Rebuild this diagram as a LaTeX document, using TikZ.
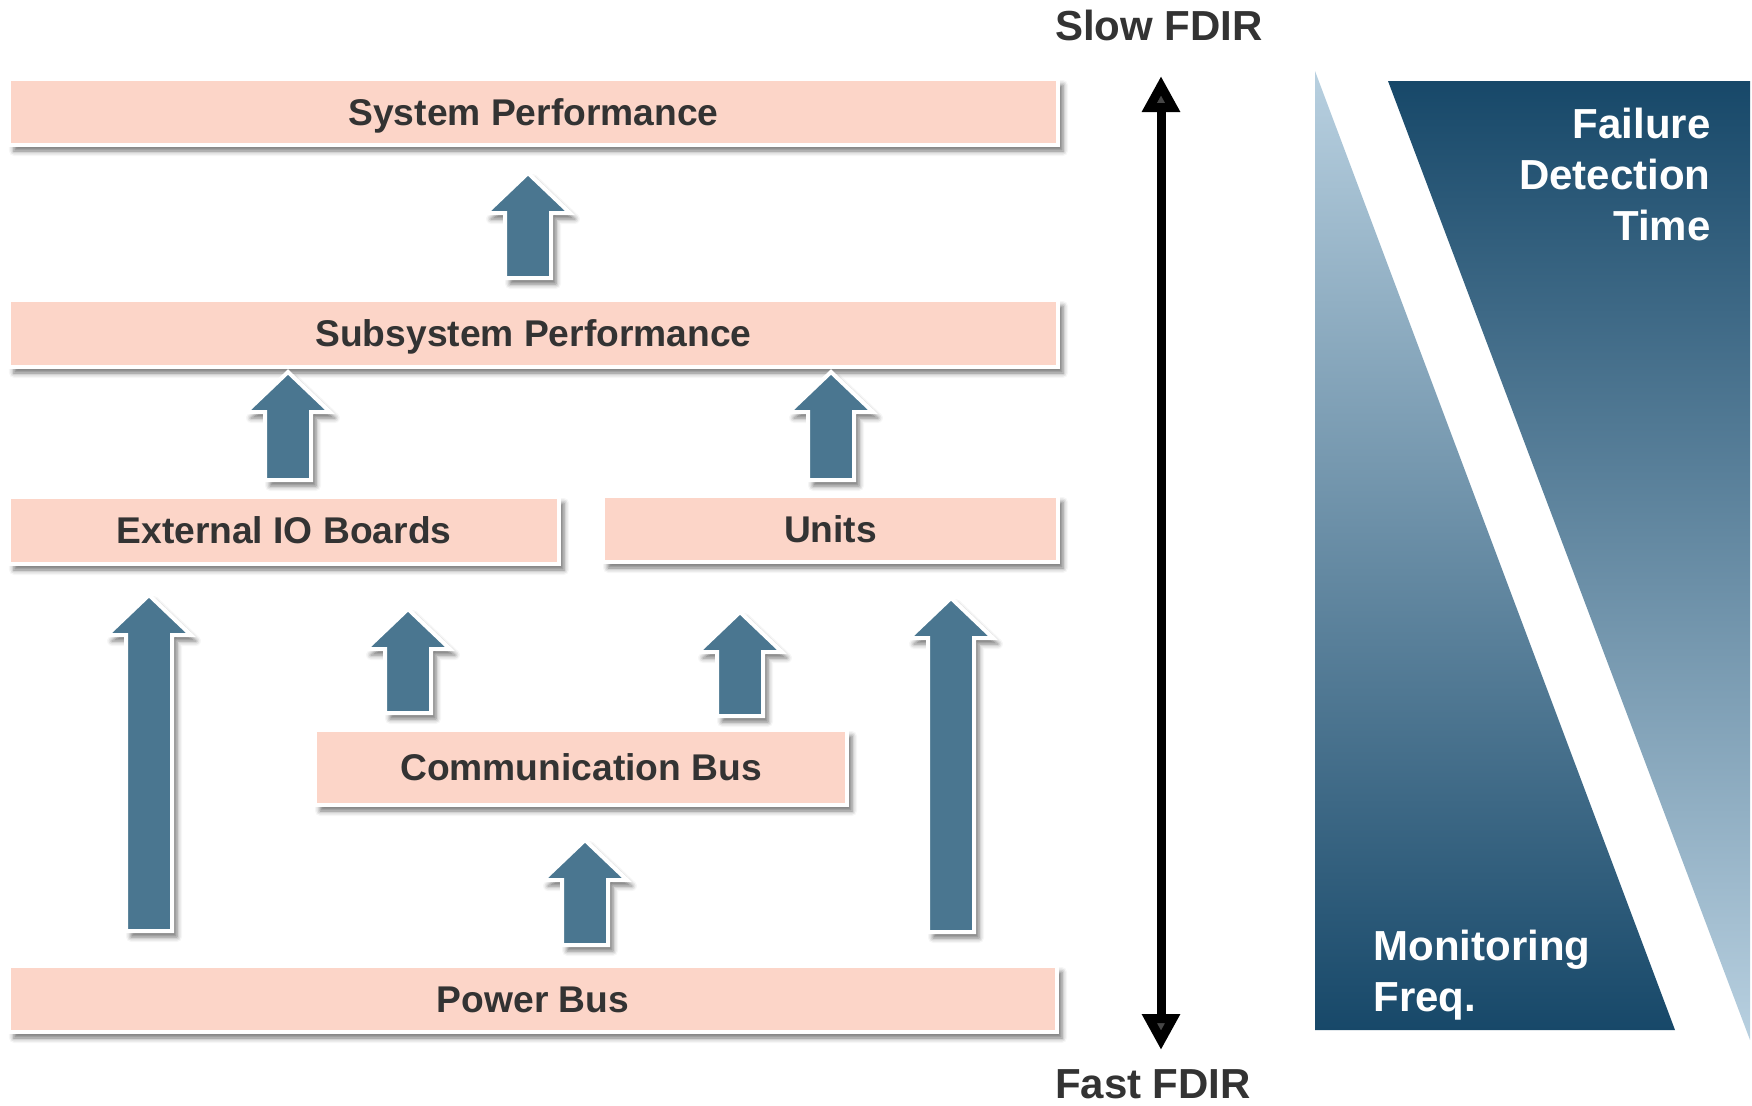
\documentclass[tikz,border=0pt]{standalone}
\usepackage{fontspec}
\setmainfont{Liberation Sans}
\usetikzlibrary{arrows.meta,shadows.blur}

\definecolor{boxfill}{RGB}{252,213,200}
\definecolor{arrowblue}{RGB}{74,118,144}
\definecolor{txtgray}{RGB}{51,51,51}
\definecolor{navy}{RGB}{23,72,105}
\definecolor{paleblue}{RGB}{184,208,224}

\tikzset{
  softshadow/.style={blur shadow={shadow xshift=2.5pt, shadow yshift=-3pt,
      shadow blur radius=2.5pt, shadow opacity=55}},
  level/.style={rectangle, fill=boxfill, draw=white, line width=2pt,
      inner sep=0pt, softshadow, text=txtgray,
      font=\fontsize{18.6}{22}\selectfont\bfseries,
      text height=13.4pt, text depth=0pt},
  upshape/.style={fill=arrowblue, draw=white, line width=2pt, softshadow},
  bigtext/.style={font=\fontsize{21}{25.5}\selectfont\bfseries, inner sep=0pt},
  fdir/.style={line width=4.5pt,
      {Triangle[length=18pt,width=18pt]}-{Triangle[length=18pt,width=18pt]}}
}

% block arrow pointing up: centre x, tip y, foot y (in pixels)
\newcommand{\blockarrow}[3]{%
  \filldraw[upshape] (#1-23,#3) -- (#1-23,#2+40) -- (#1-42,#2+40) -- (#1,#2)
    -- (#1+42,#2+40) -- (#1+23,#2+40) -- (#1+23,#3) -- cycle;}

\begin{document}
\begin{tikzpicture}[x=0.5pt, y=-0.5pt]
\useasboundingbox (0,0) rectangle (1752,1105);

% gradient wedges
\shade[top color=paleblue, bottom color=navy] (1315,71) -- (1315,1030) -- (1675,1030) -- cycle;
\shade[top color=navy, bottom color=paleblue] (1388,81) -- (1750,81) -- (1750,1040) -- cycle;
\node[bigtext, text=white, align=right, anchor=east] (fdt) at (1711,174)
  {Failure\\Detection\\Time};
\node[bigtext, text=white, align=left, anchor=west] (mon) at (1373,975)
  {Monitoring\\Freq.};

% levels
\node[level, minimum width=524.5pt, minimum height=33pt] (sys) at (533.5,112) {System Performance};
\node[level, minimum width=524.5pt, minimum height=33.5pt] (sub) at (533.5,333.5) {Subsystem Performance};
\node[level, minimum width=275pt, minimum height=33.5pt] (extio) at (284,530.5) {External IO Boards};
\node[level, minimum width=227.5pt, minimum height=33pt] (units) at (830.5,529) {Units};
\node[level, minimum width=266pt, minimum height=37.5pt] (comm) at (581,767.5) {Communication Bus};
\node[level, minimum width=524pt, minimum height=33pt] (power) at (533,999) {Power Bus};

% arrows between levels
\blockarrow{528}{173}{278}
\blockarrow{288}{372}{480}
\blockarrow{831}{372}{480}
\blockarrow{149}{595}{931}
\blockarrow{408}{609}{713}
\blockarrow{740}{612}{716}
\blockarrow{951}{598}{932}
\blockarrow{585}{840}{945}

% slow / fast axis
\coordinate (slowtip) at (1161,76);
\coordinate (fasttip) at (1161,1050);
\draw[fdir] (fasttip) -- (slowtip);
\node[bigtext, text=txtgray] (slow) at (1159,25) {Slow FDIR};
\node[bigtext, text=txtgray] (fast) at (1153,1084) {Fast FDIR};
\end{tikzpicture}
\end{document}
